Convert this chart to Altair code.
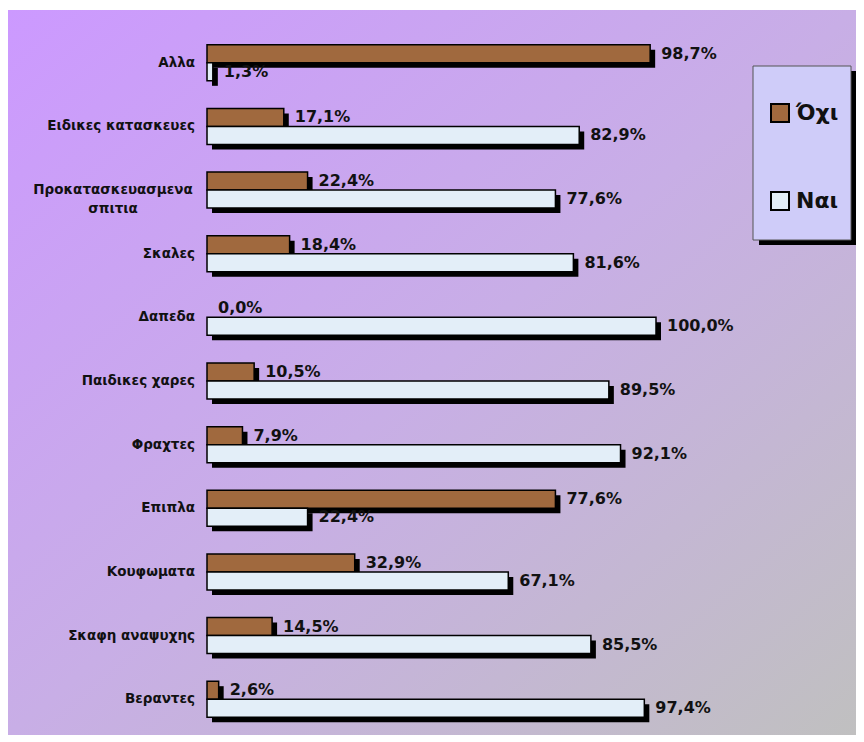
import altair as alt
import pandas as pd

categories = ["Αλλα", "Ειδικες κατασκευες", "Προκατασκευασμενα\nσπιτια", "Σκαλες", "Δαπεδα",
              "Παιδικες  χαρες", "Φραχτες", "Επιπλα", "Κουφωματα", "Σκαφη αναψυχης", "Βεραντες"]
wrapped = [False, False, True, False, False, False, False, False, False, False, False]
oxi = [98.7, 17.1, 22.4, 18.4, 0.0, 10.5, 7.9, 77.6, 32.9, 14.5, 2.6]
nai = [1.3, 82.9, 77.6, 81.6, 100.0, 89.5, 92.1, 22.4, 67.1, 85.5, 97.4]
series = ["Όχι", "Ναι"]
colors = ["#A0693E", "#E3EEF8"]

rows = []
for c, o, n in zip(categories, oxi, nai):
    for s, v in ((series[0], o), (series[1], n)):
        rows.append({"category": c, "series": s, "value": v,
                     "label": f"{v:.1f}".replace(".", ",") + "%"})
df = pd.DataFrame(rows)
cat_df = pd.DataFrame({"category": categories, "wrapped": wrapped})

W, H = 449, 700
PL, PT, PR, PB = 199, 23, 200, 4
FONT = "DejaVu Sans"

y_enc = alt.Y("category:N", sort=categories, axis=None,
              scale=alt.Scale(domain=categories, paddingInner=0, paddingOuter=0))
x_enc = alt.X("value:Q", axis=None, scale=alt.Scale(domain=[0, 100]))

bg = alt.Chart(pd.DataFrame({"a": [0]})).mark_rect(
    fill=alt.LinearGradient(gradient="linear", x1=0, y1=0, x2=1, y2=1,
                            stops=[alt.GradientStop(color="#CC99FF", offset=0),
                                   alt.GradientStop(color="#C8AEE6", offset=0.5),
                                   alt.GradientStop(color="#C0C0C0", offset=1)])
).encode(x=alt.value(-PL), x2=alt.value(W + PR), y=alt.value(-PT + 2), y2=alt.value(H + PB))

def bars(s, off):
    d = df[df["series"] == s]
    dpos = d[d["value"] > 0]
    shadow = alt.Chart(dpos).mark_bar(color="black", height=18, yOffset=off + 5,
                                      xOffset=5, x2Offset=5).encode(x=x_enc, x2=alt.X2(datum=0), y=y_enc)
    bar = alt.Chart(dpos).mark_bar(height=18, yOffset=off, stroke="black", strokeWidth=1.5,
                                   opacity=1).encode(
        x=x_enc, x2=alt.X2(datum=0), y=y_enc,
        color=alt.Color("series:N", scale=alt.Scale(domain=series, range=colors),
                        legend=alt.Legend(title=None, orient="none", legendX=562, legendY=71,
                                          symbolType="square", symbolSize=324,
                                          symbolStrokeColor="black", symbolStrokeWidth=2,
                                          symbolOpacity=1,
                                          labelFont=FONT, labelFontSize=22, labelFontWeight="bold",
                                          labelColor="#111111", labelOffset=5,
                                          rowPadding=62, padding=0)))
    txt = alt.Chart(d).mark_text(align="left", baseline="middle", dx=11, yOffset=off,
                                 font=FONT, fontSize=16, fontWeight="bold", color="#111111").encode(
        x=x_enc, y=y_enc, text="label:N")
    return shadow, bar, txt

s1, b1, t1 = bars("Όχι", -9)
s2, b2, t2 = bars("Ναι", 9)

cat_plain = alt.Chart(cat_df[~cat_df["wrapped"]]).mark_text(
    align="right", baseline="middle", font=FONT, fontSize=13.5, fontWeight="bold", color="#111111"
).encode(x=alt.value(-12), y=y_enc, text="category:N")
cat_wrap = alt.Chart(cat_df[cat_df["wrapped"]]).mark_text(
    align="center", baseline="middle", font=FONT, fontSize=13.5, fontWeight="bold", color="#111111",
    lineBreak="\n", lineHeight=19
).encode(x=alt.value(-94), y=y_enc, text="category:N")

leg_shadow = alt.Chart(pd.DataFrame({"a": [0]})).mark_rect(color="black").encode(
    x=alt.value(552), x2=alt.value(649), y=alt.value(40), y2=alt.value(214))
leg_box = alt.Chart(pd.DataFrame({"a": [0]})).mark_rect(
    fill="#CFCCF9", stroke="#555555", strokeWidth=1).encode(
    x=alt.value(546), x2=alt.value(644), y=alt.value(35), y2=alt.value(209))

chart = alt.layer(bg, leg_shadow, leg_box, s1, s2, b1, b2, t1, t2, cat_plain, cat_wrap).properties(
    width=W, height=H,
    autosize=alt.AutoSizeParams(type="none"),
    padding={"left": PL, "top": PT, "right": PR, "bottom": PB},
    background="white",
).configure_view(stroke=None)

chart.save("out.html", embed_options={"renderer": "svg", "actions": False})
